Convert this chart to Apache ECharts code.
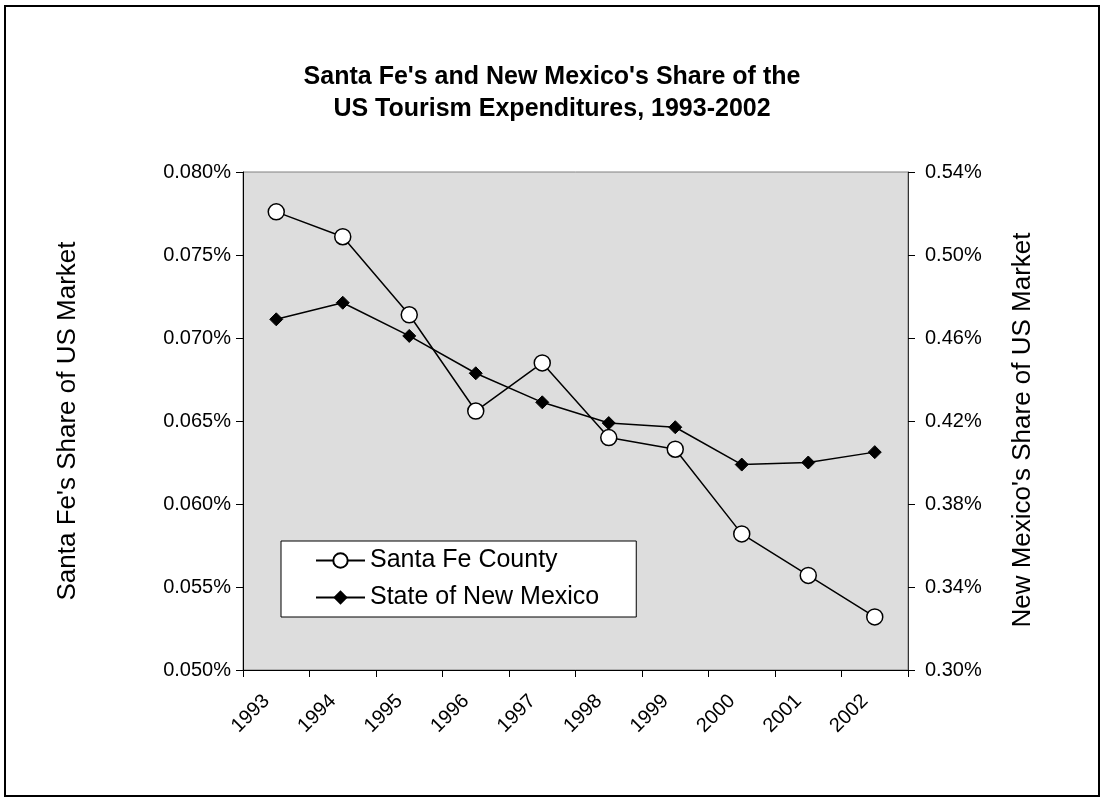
<!DOCTYPE html>
<html>
<head>
<meta charset="utf-8">
<script src="https://cdn.jsdelivr.net/npm/echarts@6/dist/echarts.min.js"></script>
<style>
  html, body { margin: 0; padding: 0; background: #fff; }
  #chart { width: 1104px; height: 801px; }
</style>
</head>
<body>
<div id="chart"></div>
<script>
// values in percent of US market
var years = ['1993', '1994', '1995', '1996', '1997', '1998', '1999', '2000', '2001', '2002']
var santaFe = [0.0776, 0.0761, 0.0714, 0.0656, 0.0685, 0.0640, 0.0633, 0.0582, 0.0557, 0.0532]
var newMexico = [0.469, 0.477, 0.461, 0.443, 0.429, 0.419, 0.417, 0.399, 0.400, 0.405]

var font = 'Liberation Sans, Arial, sans-serif'
var chart = echarts.init(document.getElementById('chart'))

chart.setOption({
  backgroundColor: '#fff',
  animation: false,
  textStyle: { fontFamily: font, color: '#000' },
  graphic: [{
    type: 'rect',
    shape: { x: 5, y: 6, width: 1094, height: 790 },
    style: { fill: 'none', stroke: '#000', lineWidth: 2 }
  }],
  title: {
    text: "Santa Fe's and New Mexico's Share of the\nUS Tourism Expenditures, 1993-2002",
    left: 'center',
    top: 56,
    textStyle: { fontFamily: font, fontSize: 25, fontWeight: 'bold', color: '#000', lineHeight: 32 }
  },
  legend: {
    orient: 'vertical',
    left: 281,
    top: 541,
    padding: [7, 37, 7, 34],
    itemWidth: 49,
    itemHeight: 18,
    itemGap: 12,
    backgroundColor: '#fff',
    borderColor: '#000',
    borderWidth: 1,
    textStyle: { fontFamily: font, fontSize: 25, color: '#000' },
    data: ['Santa Fe County', 'State of New Mexico']
  },
  grid: {
    left: 243,
    right: 196,
    top: 172,
    bottom: 131,
    show: true,
    backgroundColor: '#dddddd',
    borderColor: '#808080',
    borderWidth: 1
  },
  xAxis: {
    type: 'category',
    data: years,
    boundaryGap: true,
    axisLine: { lineStyle: { color: '#000', width: 1 } },
    axisTick: { show: true, length: 7, lineStyle: { color: '#000' } },
    axisLabel: { rotate: 45, fontSize: 20, color: '#000', margin: 18, padding: [0, 14, 0, 0], fontFamily: font },
    splitLine: { show: false }
  },
  yAxis: [{
    type: 'value',
    position: 'left',
    min: 0.05,
    max: 0.08,
    interval: 0.005,
    name: "Santa Fe's Share of US Market",
    nameLocation: 'middle',
    nameRotate: 90,
    nameGap: 162,
    nameTextStyle: { fontSize: 26, color: '#000', fontFamily: font },
    axisLine: { show: true, lineStyle: { color: '#000', width: 1 } },
    axisTick: { show: true, length: 7, lineStyle: { color: '#000' } },
    axisLabel: {
      fontSize: 20, color: '#000', margin: 12, fontFamily: font,
      formatter: function (v) { return v.toFixed(3) + '%' }
    },
    splitLine: { show: false }
  }, {
    type: 'value',
    position: 'right',
    min: 0.30,
    max: 0.54,
    interval: 0.04,
    name: "New Mexico's Share of US Market",
    nameLocation: 'middle',
    nameRotate: 90,
    nameGap: 102,
    nameTextStyle: { fontSize: 26, color: '#000', fontFamily: font, padding: [0, 18, 0, 0] },
    axisLine: { show: true, lineStyle: { color: '#333', width: 1 } },
    axisTick: { show: true, length: 7, lineStyle: { color: '#000' } },
    axisLabel: {
      fontSize: 20, color: '#000', margin: 17, fontFamily: font,
      formatter: function (v) { return v.toFixed(2) + '%' }
    },
    splitLine: { show: false }
  }],
  series: [{
    name: 'Santa Fe County',
    type: 'line',
    yAxisIndex: 0,
    data: santaFe,
    symbol: 'circle',
    symbolSize: 16,
    lineStyle: { color: '#000', width: 1.5 },
    itemStyle: { color: '#fff', borderColor: '#000', borderWidth: 1.5 },
    z: 3
  }, {
    name: 'State of New Mexico',
    type: 'line',
    yAxisIndex: 1,
    data: newMexico,
    symbol: 'diamond',
    symbolSize: 13,
    lineStyle: { color: '#000', width: 1.5 },
    itemStyle: { color: '#000', borderColor: '#000' },
    z: 2
  }]
})
</script>
</body>
</html>
